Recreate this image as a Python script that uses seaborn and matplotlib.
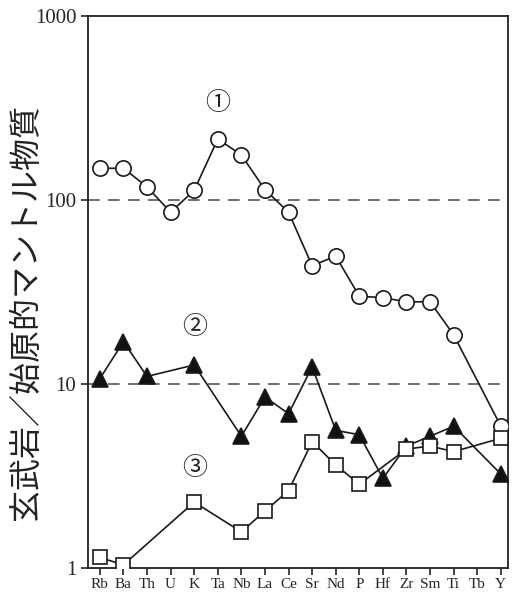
import numpy as np
import pandas as pd
import matplotlib
matplotlib.use("Agg")
import matplotlib.pyplot as plt
import seaborn as sns

elements = ["Rb", "Ba", "Th", "U", "K", "Ta", "Nb", "La", "Ce",
            "Sr", "Nd", "P", "Hf", "Zr", "Sm", "Ti", "Tb", "Y"]
nan = np.nan
# ① circles, ② filled triangles, ③ open squares
basalt1 = [149, 149, 118, 86, 113, 215, 176, 114, 86,
           44, 49.6, 30, 29.5, 28, 28, 18.5, nan, 5.9]
basalt2 = [10.7, 17, 11, nan, 12.7, nan, 5.2, 8.5, 6.9,
           12.4, 5.6, 5.3, 3.07, 4.6, 5.2, 5.9, nan, 3.24]
basalt3 = [1.14, 1.04, nan, nan, 2.28, nan, 1.57, 2.04, 2.63,
           4.86, 3.63, 2.85, nan, 4.43, 4.6, 4.29, nan, 5.07]
ref_lines = [100, 10]
tags = ["①", "②", "③"]
tag_pos = [(5, 337), (4, 20.4), (4, 3.5)]

sns.set_style("ticks")
plt.rcParams["font.family"] = ["Liberation Serif", "Noto Sans CJK JP", "DejaVu Sans"]

fig = plt.figure(figsize=(5.12, 6.01), dpi=100)
ax = fig.add_axes([0.172, 0.055, 0.82, 0.918])

for v in ref_lines:
    ax.axhline(v, color="#555555", lw=1.2, ls=(0, (7, 5)), zorder=1)

df = pd.DataFrame({"x": np.arange(len(elements)), "s1": basalt1,
                   "s2": basalt2, "s3": basalt3})

styles = [("s1", "o", "white", 11),
          ("s2", "^", "#111111", 11),
          ("s3", "s", "white", 9.5)]
for col, mk, fc, ms in styles:
    d = df[["x", col]].dropna()
    sns.lineplot(data=d, x="x", y=col, ax=ax, color="#1a1a1a", lw=1.2,
                 marker=mk, markersize=ms, markerfacecolor=fc,
                 markeredgecolor="#1a1a1a", markeredgewidth=1.2, zorder=3)

ax.set_yscale("log")
ax.set_ylim(1, 1000)
ax.set_xlim(-0.5, 17.3)
ax.set_yticks([1, 10, 100, 1000])
ax.set_yticklabels(["1", "10", "100", "1000"], fontsize=15)
ax.yaxis.set_minor_locator(matplotlib.ticker.NullLocator())
ax.set_xticks(range(len(elements)))
ax.set_xticklabels(elements, fontsize=11)
ax.tick_params(axis="both", direction="out", length=5, width=1.2, color="#222222")
ax.tick_params(axis="x", pad=2)
for s in ax.spines.values():
    s.set_linewidth(1.3)
    s.set_color("#222222")
ax.set_xlabel("")
ax.set_ylabel("")
fig.text(0.05, 0.481, "玄武岩／始原的マントル物質", fontsize=23, rotation=90,
         ha="center", va="center", family=["Noto Sans CJK JP"], color="#222222")

for t, (x, y) in zip(tags, tag_pos):
    ax.text(x, y, t, fontsize=18, ha="center", va="center",
            family=["Noto Sans CJK JP"], color="#222222")

fig.savefig("out.png", dpi=100)
